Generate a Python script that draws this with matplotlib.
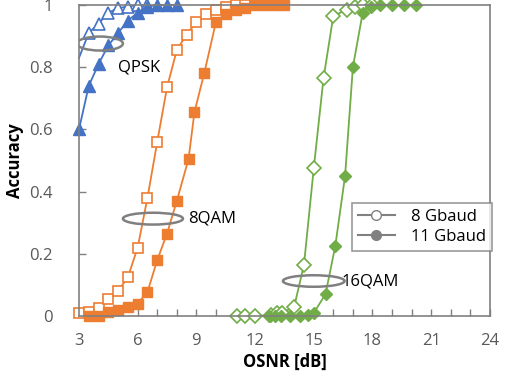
import numpy as np
from matplotlib import pyplot as plt
from matplotlib.patches import Ellipse
from matplotlib.lines import Line2D

plt.rcParams['font.family'] = ['Open Sans', 'DejaVu Sans']

# QPSK
qpsk8_x = [3.0, 3.5, 4.0, 4.5, 5.0, 5.5, 6.0, 6.5]
qpsk8_y = [0.83, 0.91, 0.94, 0.975, 0.99, 0.995, 1.0, 1.0]
qpsk11_x = [3.0, 3.5, 4.0, 4.5, 5.0, 5.5, 6.0, 6.5, 7.0, 7.5, 8.0]
qpsk11_y = [0.60, 0.74, 0.81, 0.87, 0.91, 0.95, 0.975, 0.995, 1.0, 1.0, 1.0]

# 8QAM
qam8_8_x = [3.0, 3.5, 4.0, 4.5, 5.0, 5.5, 6.0, 6.5, 7.0, 7.5, 8.0, 8.5, 9.0, 9.5, 10.0, 10.5, 11.0, 11.5, 12.0]
qam8_8_y = [0.01, 0.012, 0.025, 0.055, 0.08, 0.125, 0.22, 0.38, 0.56, 0.735, 0.855, 0.905, 0.945, 0.97, 0.985, 0.995, 1.0, 1.0, 1.0]
qam8_11_x = [3.5, 4.0, 4.5, 5.0, 5.5, 6.0, 6.5, 7.0, 7.5, 8.0, 8.6, 8.9, 9.4, 10.0, 10.5, 11.0, 11.5, 12.0, 12.5, 13.0, 13.5]
qam8_11_y = [0.0, 0.0, 0.012, 0.02, 0.03, 0.04, 0.077, 0.18, 0.265, 0.37, 0.505, 0.655, 0.78, 0.945, 0.97, 0.985, 0.99, 1.0, 1.0, 1.0, 1.0]

# 16QAM
qam16_8_x = [11.1, 11.5, 12.0, 12.8, 13.1, 13.4, 14.0, 14.5, 15.0, 15.5, 16.0, 16.7, 17.1, 17.5, 18.0]
qam16_8_y = [0.0, 0.0, 0.0, 0.003, 0.01, 0.01, 0.03, 0.165, 0.475, 0.765, 0.965, 0.985, 0.995, 1.0, 1.0]
qam16_11_x = [12.7, 13.0, 13.3, 13.8, 14.3, 14.7, 15.0, 15.6, 16.1, 16.6, 17.0, 17.5, 17.9, 18.4, 19.0, 19.6, 20.2]
qam16_11_y = [0.0, 0.0, 0.0, 0.0, 0.0, 0.003, 0.01, 0.07, 0.225, 0.45, 0.80, 0.975, 0.995, 1.0, 1.0, 1.0, 1.0]

blue = '#4472C4'
orange = '#ED7D31'
green = '#70AD47'
gray = '#808080'

fig = plt.figure(figsize=(5.05, 3.77), dpi=100)
ax = fig.add_axes([0.1564, 0.1618, 0.8136, 0.825])

# first open QPSK point has no marker (line only)
ax.plot(qpsk8_x, qpsk8_y, '-^', color=blue, mfc='white', mec=blue, ms=8, mew=1.2, lw=1.3,
        markevery=list(range(1, len(qpsk8_x))), clip_on=False)
ax.plot(qpsk11_x, qpsk11_y, '-^', color=blue, ms=8, lw=1.3, clip_on=False)
ax.plot(qam8_8_x, qam8_8_y, '-s', color=orange, mfc='white', mec=orange, ms=7.5, mew=1.2, lw=1.3, clip_on=False)
ax.plot(qam8_11_x, qam8_11_y, '-s', color=orange, ms=7.5, lw=1.3, clip_on=False)
ax.plot(qam16_8_x, qam16_8_y, '-D', color=green, mfc='white', mec=green, ms=6.8, mew=1.2, lw=1.3, clip_on=False)
ax.plot(qam16_11_x, qam16_11_y, '-D', color=green, ms=6.5, lw=1.3, clip_on=False)

# annotation ellipses
for (cx, cy, w, h) in [(4.07, 0.876, 2.35, 0.045), (6.78, 0.313, 3.07, 0.038), (15.0, 0.1125, 3.15, 0.037)]:
    ax.add_patch(Ellipse((cx, cy), w, h, fill=False, ec=gray, lw=1.8, zorder=5))
ax.text(5.0, 0.80, 'QPSK', fontsize=12, va='center', ha='left')
ax.text(8.57, 0.313, '8QAM', fontsize=12, va='center', ha='left')
ax.text(16.4, 0.1125, '16QAM', fontsize=12, va='center', ha='left')

ax.set_xlim(3, 24)
ax.set_ylim(0, 1)
ax.set_xticks(np.arange(3, 25, 3))
ax.set_xticks(np.arange(3, 25, 1), minor=True)
ax.set_yticks([0, 0.2, 0.4, 0.6, 0.8, 1])
ax.set_yticklabels(['0', '0.2', '0.4', '0.6', '0.8', '1'])
ax.tick_params(axis='both', which='both', direction='in', colors=gray, labelcolor='#595959', labelsize=12, width=1)
ax.tick_params(axis='both', which='major', length=5)
ax.tick_params(axis='x', which='minor', length=5)
ax.tick_params(axis='x', pad=12)
ax.tick_params(axis='y', pad=19)
for s in ax.spines.values():
    s.set_color(gray)
    s.set_linewidth(1.2)

ax.set_xlabel('OSNR [dB]', fontsize=12, fontweight='bold', labelpad=3)
ax.set_ylabel('Accuracy', fontsize=12, fontweight='bold')
ax.yaxis.set_label_coords(-0.133, 0.5)

handles = [Line2D([], [], color=gray, marker='o', mfc='white', mec=gray, ms=7, lw=1.5),
           Line2D([], [], color=gray, marker='o', ms=7, lw=1.5)]
leg = ax.legend(handles, ['8 Gbaud', '11 Gbaud'], loc='upper left', bbox_to_anchor=(0.645, 0.39),
                fontsize=12, frameon=True, fancybox=False, edgecolor=gray, handlelength=2.2,
                handletextpad=1.0, borderpad=0.35, labelspacing=0.25)
leg.get_frame().set_linewidth(1.2)

fig.savefig('out.png', dpi=100)
